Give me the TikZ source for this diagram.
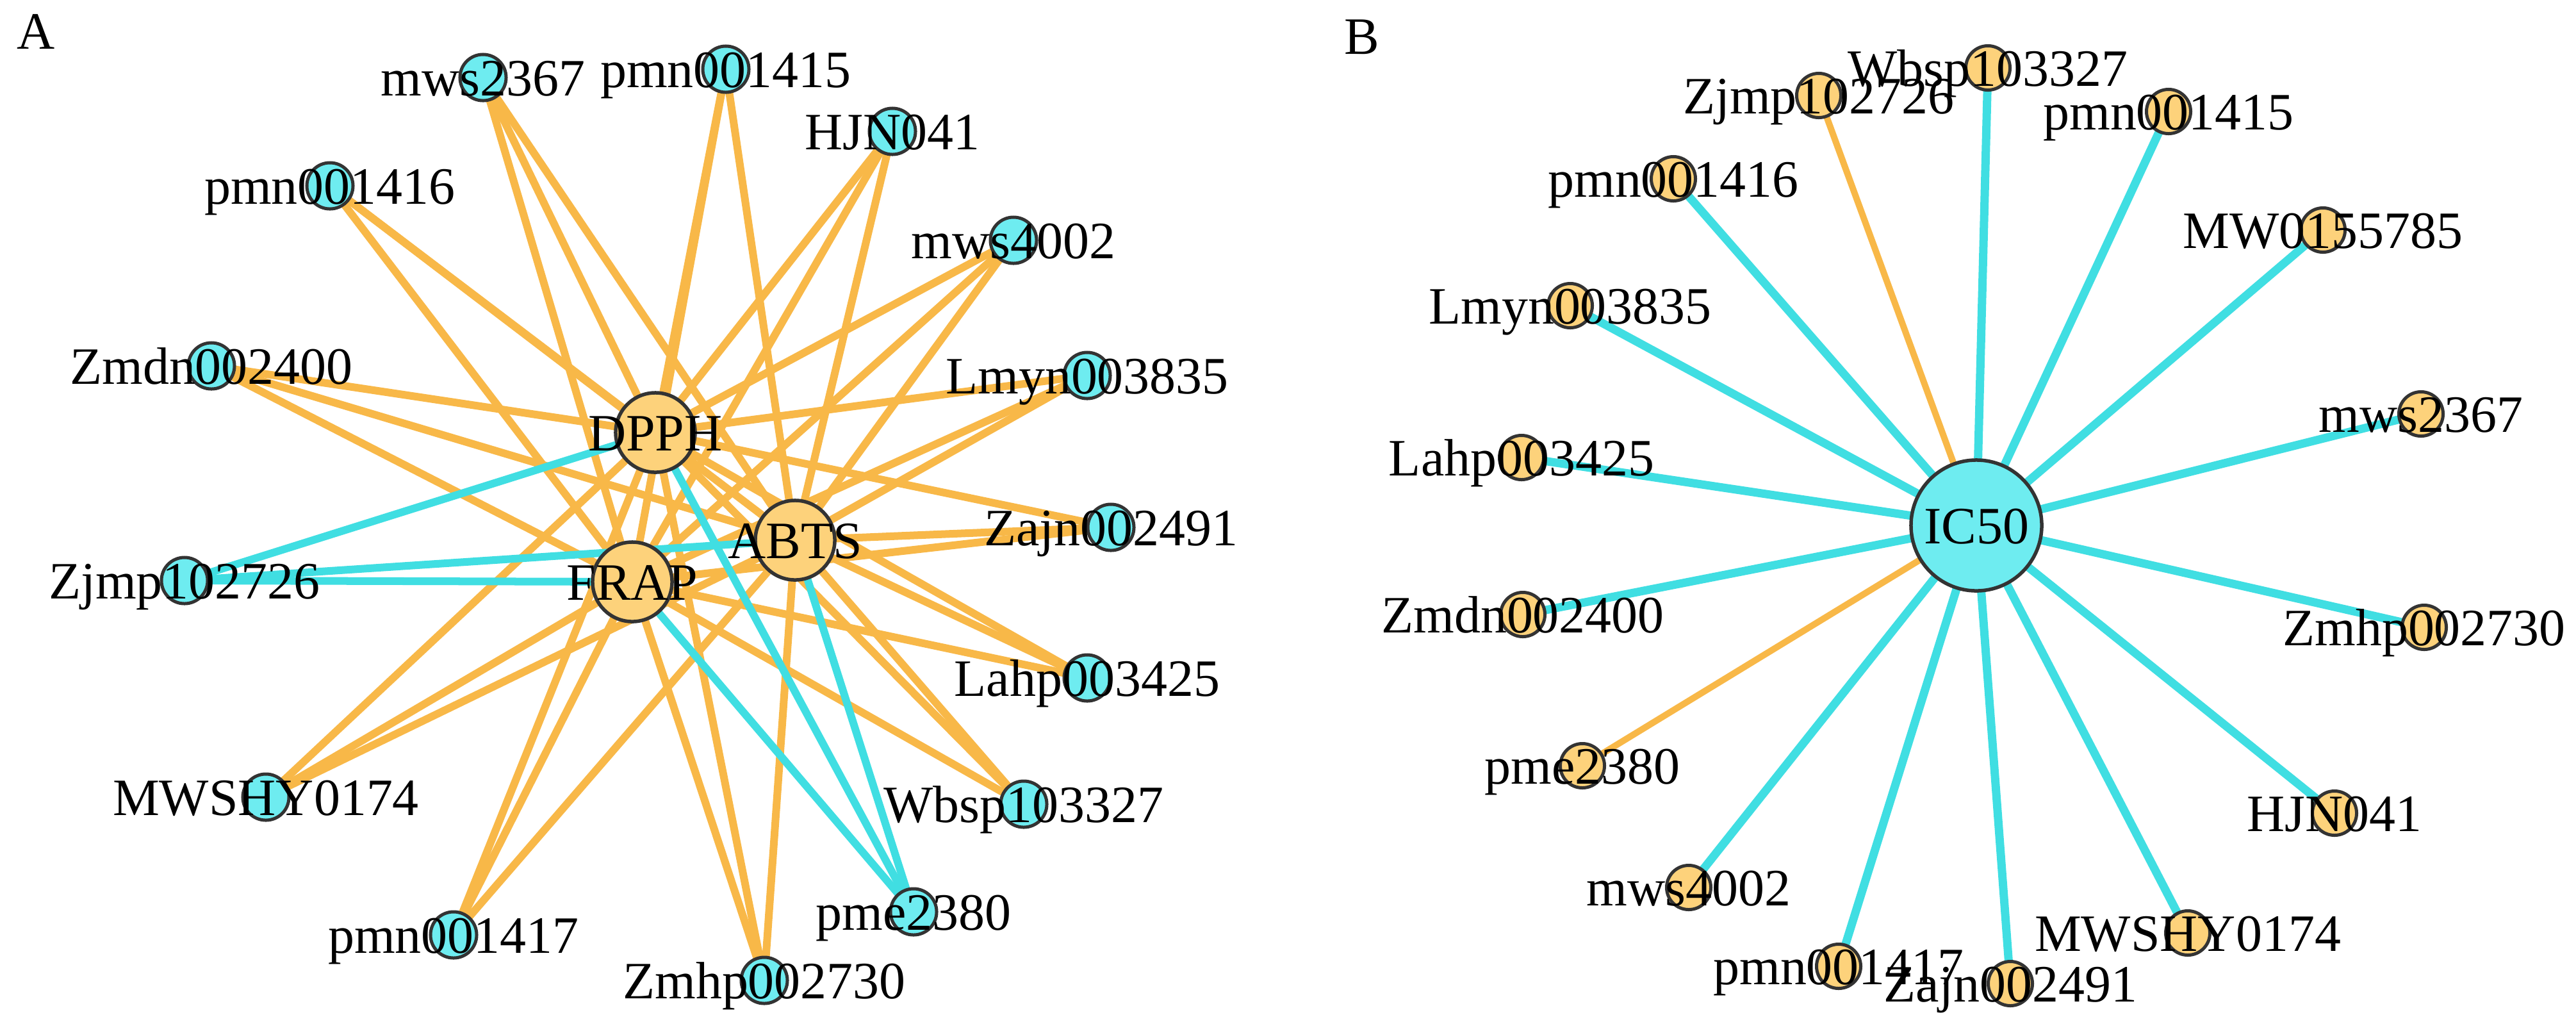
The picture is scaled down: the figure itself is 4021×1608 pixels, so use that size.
\documentclass[tikz,border=0pt]{standalone}
\usepackage{fontspec}
\setmainfont{Liberation Serif}
\definecolor{nodecyan}{RGB}{110,236,240}
\definecolor{nodeorange}{RGB}{253,210,123}
\definecolor{edgeorange}{RGB}{248,184,72}
\definecolor{edgecyan}{RGB}{64,222,226}
\definecolor{bordergray}{RGB}{51,51,51}
\pgfdeclarelayer{edgelayer}
\pgfsetlayers{edgelayer,main}
\tikzset{
  smallA/.style={circle, draw=bordergray, line width=0.05cm, fill=nodecyan, minimum size=0.72cm, inner sep=0pt, outer sep=0pt},
  bigA/.style={circle, draw=bordergray, line width=0.055cm, fill=nodeorange, minimum size=1.24cm, inner sep=0pt, outer sep=0pt},
  smallB/.style={circle, draw=bordergray, line width=0.05cm, fill=nodeorange, minimum size=0.69cm, inner sep=0pt, outer sep=0pt},
  bigB/.style={circle, draw=bordergray, line width=0.055cm, fill=nodecyan, minimum size=2.04cm, inner sep=0pt, outer sep=0pt},
  lbl/.style={anchor=base, inner sep=0pt, outer sep=0pt, font=\fontsize{23.3pt}{28pt}\selectfont, text=black},
  oedge/.style={draw=edgeorange, line width=0.12cm},
  cedge/.style={draw=edgecyan, line width=0.12cm},
  oedgeB/.style={draw=edgeorange, line width=0.10cm},
  cedgeB/.style={draw=edgecyan, line width=0.13cm},
}
\begin{document}
\begin{tikzpicture}[x=0.01cm, y=-0.01cm]
\useasboundingbox (0,0) rectangle (4021,1608);
% ---------- Panel A ----------
\node[lbl] (labA) at (56,76) {A};
\node[bigA] (aDPPH) at (1023,675) {};
\node[bigA] (aABTS) at (1241,843) {};
\node[bigA] (aFRAP) at (987,908) {};
\foreach \n/\x/\y in {aM2367/754/121, aP1415/1133/108, aHJN/1393/205, aP1416/515/290,
  aM4002/1582/375, aZmdn/330/571, aLmyn/1697/586, aZajn/1734/823, aZjmp/288/906,
  aLahp/1697/1058, aMWSHY/415/1244, aWbsp/1598/1255, aPme/1426/1423, aP1417/708/1459,
  aZmhp/1193/1530}
  {\node[smallA] (\n) at (\x,\y) {};}
\begin{pgfonlayer}{edgelayer}
\foreach \n in {aM2367, aP1415, aHJN, aP1416, aM4002, aZmdn, aLmyn, aZajn,
  aLahp, aMWSHY, aWbsp, aP1417, aZmhp}
  {\draw[oedge] (\n.center) -- (aDPPH.center);
   \draw[oedge] (\n.center) -- (aABTS.center);
   \draw[oedge] (\n.center) -- (aFRAP.center);}
\foreach \n in {aZjmp, aPme}
  {\draw[cedge] (\n.center) -- (aDPPH.center);
   \draw[cedge] (\n.center) -- (aABTS.center);
   \draw[cedge] (\n.center) -- (aFRAP.center);}
\end{pgfonlayer}
\foreach \n/\x/\y/\t in {aM2367/754/121/mws2367, aP1415/1133/108/pmn001415, aHJN/1393/205/HJN041,
  aP1416/515/290/pmn001416, aM4002/1582/375/mws4002, aZmdn/330/571/Zmdn002400,
  aLmyn/1697/586/Lmyn003835, aZajn/1734/823/Zajn002491, aZjmp/288/906/Zjmp102726,
  aLahp/1697/1058/Lahp003425, aMWSHY/415/1244/MWSHY0174, aWbsp/1598/1255/Wbsp103327,
  aPme/1426/1423/pme2380, aP1417/708/1459/pmn001417, aZmhp/1193/1530/Zmhp002730}
  {\node[lbl] (l\n) at (\x,{\y+28}) {\t};}
\node[lbl] (laDPPH) at (1023,703) {DPPH};
\node[lbl] (laABTS) at (1241,871) {ABTS};
\node[lbl] (laFRAP) at (987,936) {FRAP};
% ---------- Panel B ----------
\node[lbl] (labB) at (2126,84) {B};
\node[bigB] (bIC) at (3085,820) {};
\foreach \n/\x/\y in {bZjmp/2839/149, bWbsp/3103/106, bP1415/3385/174, bP1416/2612/279,
  bMW01/3626/359, bLmyn/2451/477, bM2367/3779/646, bLahp/2375/714, bZmdn/2377/959,
  bZmhp/3784/979, bPme/2470/1195, bHJN/3644/1269, bM4002/2636/1385, bMWSHY/3415/1456,
  bP1417/2870/1508, bZajn/3138/1535}
  {\node[smallB] (\n) at (\x,\y) {};}
\begin{pgfonlayer}{edgelayer}
\foreach \n in {bWbsp, bP1415, bP1416, bMW01, bLmyn, bM2367, bLahp, bZmdn,
  bZmhp, bHJN, bM4002, bMWSHY, bP1417, bZajn}
  {\draw[cedgeB] (\n.center) -- (bIC.center);}
\foreach \n in {bZjmp, bPme}
  {\draw[oedgeB] (\n.center) -- (bIC.center);}
\end{pgfonlayer}
\foreach \n/\x/\y/\t in {bZjmp/2839/149/Zjmp102726, bWbsp/3103/106/Wbsp103327,
  bP1415/3385/174/pmn001415, bP1416/2612/279/pmn001416, bMW01/3626/359/MW0155785,
  bLmyn/2451/477/Lmyn003835, bM2367/3779/646/mws2367, bLahp/2375/714/Lahp003425,
  bZmdn/2377/959/Zmdn002400, bZmhp/3784/979/Zmhp002730, bPme/2470/1195/pme2380,
  bHJN/3644/1269/HJN041, bM4002/2636/1385/mws4002, bMWSHY/3415/1456/MWSHY0174,
  bP1417/2870/1508/pmn001417, bZajn/3138/1535/Zajn002491}
  {\node[lbl] (l\n) at (\x,{\y+28}) {\t};}
\node[lbl] (lbIC) at (3085,848) {IC50};
\end{tikzpicture}
\end{document}
